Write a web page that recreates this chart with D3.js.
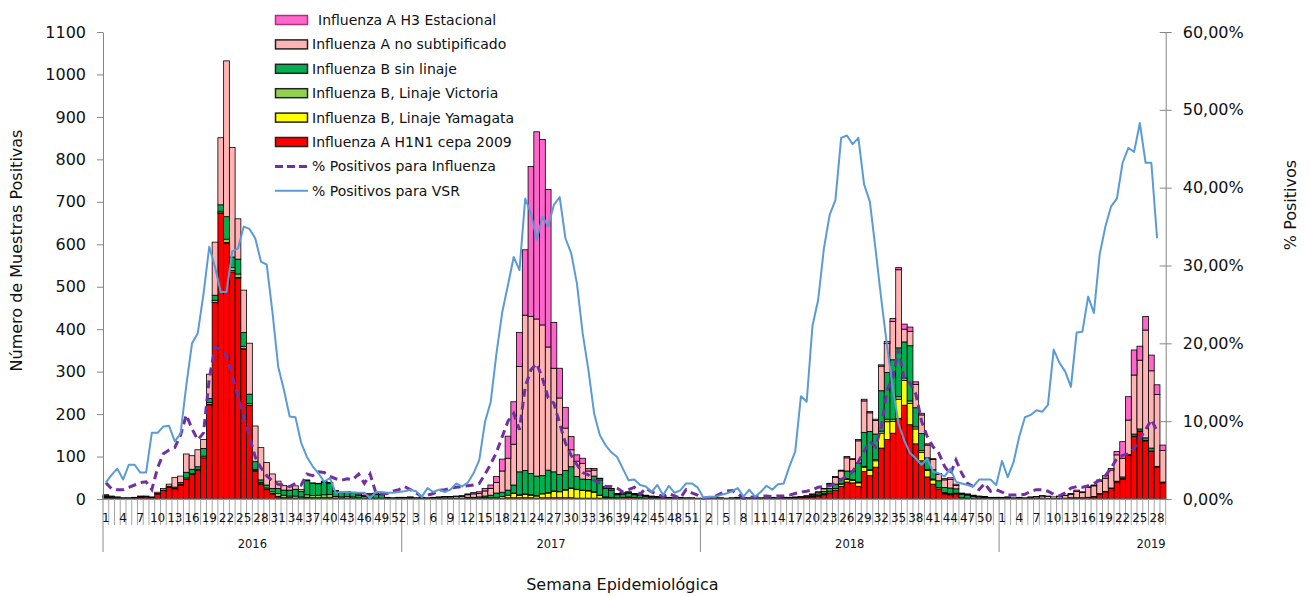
<!DOCTYPE html>
<html>
<head>
<meta charset="utf-8">
<script src="https://cdn.jsdelivr.net/npm/d3@7"></script>
<style>
  html, body { margin: 0; padding: 0; background: #fff; }
  svg text { font-family: "DejaVu Sans", Verdana, sans-serif; fill: #111; }
</style>
</head>
<body>
<svg id="chart" width="1309" height="596"></svg>
<script>
// ---- Epidemiological weeks: years and how many weeks each one contributes ----
const years = [2016, 2017, 2018, 2019];
const weeksInYear = [52, 52, 52, 29];

// ---- Positive samples per week, by virus (stacked bottom to top) ----
const h1n1 = [
  3,2,2,1,1,2,4,5,3,12, 20,28,24,33,47,58,68,97,222,463, 673,602,535,520,352,220,66,35,22,12,
  5,2,2,1,1,2,1,1,1,1, 1,1,1,1,1,0,1,1,1,1, 1,1,
  1,1,1,1,1,1,1,1,1,1, 1,1,1,1,1,1,1,2,3,3, 3,3,3,2,3,3,3,3,3,3, 2,2,2,2,2,2,2,2,3,4,
  3,2,2,1,1,1,1,1,1,1, 1,1,
  1,1,1,1,1,1,2,1,1,1, 1,1,2,1,2,2,2,3,4,5, 7,10,14,20,30,40,38,30,65,55, 75,120,140,155,190,221,175,130,90,52,
  35,22,12,10,12,2,1,1,1,1, 1,1,
  1,1,1,1,0,1,1,1,1,1, 1,1,2,2,2,3,5,12,17,25, 40,47,103,147,159,137,112,75,38
];
const yamagata = [
  2,1,0,0,0,0,0,0,0,0, 0,0,0,0,0,0,0,0,1,0, 1,2,3,2,2,1,1,1,1,1, 1,1,1,1,1,2,2,2,2,2,
  1,1,1,1,0,0,0,0,0,0, 0,0,
  0,0,0,0,0,0,0,0,0,0, 0,1,1,1,2,2,3,4,6,10, 6,8,6,5,9,11,15,14,18,22, 20,18,17,14,6,2,1,1,1,1,
  1,1,0,0,0,0,0,0,0,0, 0,0,
  0,0,0,0,0,0,0,0,0,0, 0,0,0,0,0,0,0,0,0,1, 1,2,3,4,5,6,6,8,10,12, 15,35,42,28,45,58,50,35,20,15,
  10,4,2,2,1,0,0,0,0,0, 0,0,
  0,0,0,0,0,0,0,0,0,0, 0,0,0,0,0,0,0,0,0,0, 0,0,0,0,0,0,0,0,0
];
const victoria = [
  1,1,0,0,0,0,0,0,0,0, 0,0,1,2,3,2,2,4,4,5, 4,8,7,8,5,4,3,3,3,4, 7,6,4,5,3,6,5,6,7,8,
  4,3,4,3,2,1,1,1,1,0, 0,0,
  0,0,0,0,0,0,0,0,0,0, 0,0,0,0,0,0,0,0,0,1, 1,1,1,1,1,1,1,1,1,1, 1,1,1,1,1,1,1,0,0,0,
  0,0,0,0,0,0,0,0,0,0, 0,0,
  0,0,0,0,0,0,0,0,0,0, 0,0,0,0,0,0,0,0,0,0, 0,1,1,1,1,2,2,2,2,2, 3,5,6,5,6,6,6,5,4,3,
  2,1,1,1,1,1,1,0,0,0, 0,0,
  0,0,0,0,0,0,0,0,0,0, 0,0,0,0,0,0,0,0,0,0, 0,1,0,1,1,1,1,0,0
];
const bSinLinaje = [
  3,2,2,1,1,1,1,0,0,1, 1,2,3,4,13,10,6,18,10,12, 15,53,25,35,33,22,18,6,7,8, 12,12,14,16,13,33,29,27,30,26,
  12,10,11,9,6,5,8,9,8,2, 1,2,
  1,2,1,1,1,1,1,1,1,1, 1,2,2,3,4,6,10,10,12,19, 54,55,50,46,42,53,45,40,45,50, 30,26,26,37,36,20,17,7,7,8,
  6,6,4,3,3,2,2,1,2,1, 1,1,
  1,1,1,1,1,1,1,1,1,1, 1,1,1,1,1,1,1,1,2,3, 4,5,7,10,12,18,20,45,80,90, 60,95,110,140,115,85,130,45,40,27,
  22,16,12,13,10,8,7,5,4,3, 2,2,
  1,1,0,1,1,0,0,1,0,0, 1,1,1,1,1,1,1,1,1,1, 2,4,2,5,5,6,7,2,2
];
const aNoSubtipificado = [
  1,1,1,1,1,1,2,2,2,3, 4,5,23,15,43,32,40,21,57,125, 158,367,258,95,100,120,84,76,53,34, 17,11,8,8,4,2,1,1,2,2,
  2,1,1,2,3,2,3,3,2,1, 1,1,
  1,1,1,1,1,1,2,3,3,4, 4,6,8,8,12,16,25,50,75,96, 248,366,370,370,355,290,244,180,100,40, 36,37,20,14,3,3,3,2,3,3,
  2,2,2,2,1,1,1,1,1,1, 1,0,
  0,1,1,1,0,1,1,1,1,0, 1,1,1,1,1,1,2,2,2,2, 4,6,10,16,18,31,27,52,74,44, 32,58,68,90,184,30,34,55,44,30,
  24,15,18,20,8,2,2,2,1,1, 1,1,
  2,2,2,2,2,3,4,5,5,4, 4,6,8,15,12,23,25,29,31,42, 62,44,81,139,162,254,182,169,74
];
const h3Estacional = [
  0,0,0,0,0,0,0,0,0,0, 0,0,0,0,0,0,0,0,0,0, 0,0,0,0,0,0,0,0,0,0, 0,0,0,0,0,0,0,0,0,0,
  0,0,0,0,1,5,0,0,0,0, 0,0,
  1,1,0,1,0,1,1,1,1,1, 2,2,3,4,6,8,14,28,52,100, 80,154,353,441,437,371,108,70,49,31, 15,12,6,4,1,1,1,1,1,1,
  1,1,1,1,1,1,0,0,0,0, 0,0,
  0,0,0,0,0,0,0,0,0,0, 0,0,0,0,0,0,0,0,0,1, 1,1,2,2,2,3,2,3,4,3, 3,3,5,7,5,12,10,6,4,3,
  2,2,3,4,3,1,1,1,1,1, 0,0,
  0,1,0,0,0,1,1,1,1,0, 1,1,2,3,2,2,2,3,6,4, 8,39,55,59,33,32,37,23,13
];

// ---- Weekly positivity (%) ----
const pctInfluenza = [
  2.1,1.3,1.2,1.2,1.5,1.8,2.1,2.2,1.2,4.0, 5.8,6.3,6.6,8.2,10.8,9.0,7.6,8.5,15.5,19.5,
  19.2,18.4,15.8,13.2,10.6,8.0,5.4,4.0,3.0,2.3, 1.9,1.8,1.6,2.0,1.8,3.2,3.0,3.5,3.4,2.9,
  2.6,2.4,2.6,2.5,3.2,2.0,3.2,0.8,0.7,0.7, 1.0,1.2,
  1.6,1.2,0.8,0.3,0.5,0.7,1.1,1.2, 1.4,1.5,1.6,1.7,1.8,2.0,3.2,4.5,6.0,8.0,
  10.0,11.0,8.9,14.4,16.6,17.4,15.5,13.0,12.3,9.7, 7.2,5.6,4.4,3.4,3.1,2.4,2.0,1.6,1.6,1.4,
  0.9,1.2,1.5,0.6,1.4,0.9,0.6,0.3,0.7,0.4, 0.1,1.2,0.8,0.5,
  0.1,0.2,0.3,0.7,1.0,1.1,0.7,0.1,0.2,0.3, 0.4,0.4,0.3,0.4,0.4,0.5,0.7,0.9,1.0,1.2,
  1.5,1.6,1.7,2.0,2.5,2.9,3.5,4.8,6.2,7.4, 6.7,9.3,14.0,15.7,19.2,15.3,14.9,13.5,10.0,8.0,
  6.7,5.9,4.2,3.2,5.0,3.3,2.0,1.6,1.2,2.0, 1.0,1.2,
  0.9,0.5,0.5,0.5,0.6,1.0,1.2,1.2,1.0,0.6, 0.4,0.8,1.4,1.6,1.5,1.7,2.0,2.4,3.0,4.0,
  5.2,5.6,5.8,6.5,7.8,8.9,10.2,8.7,null
];
const pctVSR = [
  2.1,3.1,3.9,2.5,4.4,4.4,3.4,3.4,8.5,8.5, 9.3,9.4,7.4,8.4,14.6,20.0,21.3,26.4,32.4,29.8,
  26.6,26.6,31.8,32.2,35.0,34.7,33.5,30.5,30.1,24.0, 17.0,14.0,10.6,10.5,7.2,5.4,4.2,3.3,2.2,2.7,
  0.8,0.9,0.9,0.8,0.8,0.8,0.1,0.9,0.9,0.8, 0.8,0.9,
  1.0,1.2,1.0,0.3,1.4,0.9,1.2,0.9, 1.2,2.0,1.6,2.1,3.3,5.0,9.9,12.5,18.7,24.0,
  27.5,31.1,29.4,38.6,36.7,33.3,36.3,35.0,37.8,38.8, 33.5,31.6,27.7,21.3,16.6,11.0,8.2,6.9,6.0,5.4,
  3.9,2.4,2.5,1.8,1.6,0.9,1.8,0.5,1.7,0.8, 1.1,2.0,2.0,1.5,
  0.2,0.3,0.3,0.5,0.7,1.0,1.4,0.3,1.2,0.3, 0.9,1.7,1.2,1.9,2.0,4.2,6.1,13.2,12.5,22.2,
  25.6,32.2,36.5,38.4,46.4,46.7,45.6,46.4,40.4,38.2, 32.0,25.6,19.6,14.2,9.7,7.5,5.9,5.2,4.4,5.2,
  3.5,3.3,2.9,3.9,2.2,2.0,1.8,1.6,2.5,2.5, 2.5,1.8,
  4.9,2.8,4.7,8.0,10.5,10.8,11.4,11.2,12.1,19.2, 17.5,16.4,14.4,21.4,21.5,26.0,23.9,31.4,35.0,37.6,
  38.6,43.2,45.1,44.6,48.3,43.2,43.2,33.5,null
];

// ---- Axis ticks ----
const leftTicks = [0,100,200,300,400,500,600,700,800,900,1000,1100];
const rightTicks = [0,10,20,30,40,50,60];

// ---- Series presentation ----
const barSeries = [
  { key: "h1n1", label: "Influenza A H1N1 cepa 2009", values: h1n1, color: "#ff0000" },
  { key: "yam",  label: "Influenza B, Linaje Yamagata", values: yamagata, color: "#ffff00" },
  { key: "vic",  label: "Influenza B, Linaje Victoria", values: victoria, color: "#92d050" },
  { key: "bsin", label: "Influenza B sin linaje", values: bSinLinaje, color: "#00b050" },
  { key: "anos", label: "Influenza A no subtipificado", values: aNoSubtipificado, color: "#ffb3b3" },
  { key: "h3",   label: "Influenza A H3 Estacional", values: h3Estacional, color: "#ff66cc" }
];

(function draw() {
  // Category list: one entry per epidemiological week
  const weeks = [];
  years.forEach((yr, yi) => {
    for (let w = 1; w <= weeksInYear[yi]; w++) weeks.push({ year: yr, week: w });
  });
  const n = weeks.length;

  const rows = weeks.map((d, i) => {
    const r = { i };
    barSeries.forEach(s => { r[s.key] = s.values[i]; });
    return r;
  });

  const svg = d3.select("#chart");
  const pL = 103, pR = 1165.7, pT = 32, pB = 499;

  const x = d3.scaleBand().domain(d3.range(n)).range([pL, pR]).padding(0);
  const bw = x.bandwidth();
  const y = d3.scaleLinear().domain([0, 1100]).range([pB, pT]);
  const yR = d3.scaleLinear().domain([0, 60]).range([pB, pT]);

  const axisColor = "#868686";

  // ---- Stacked bars ----
  const layers = d3.stack().keys(barSeries.map(s => s.key))(rows);
  const barG = svg.append("g");
  layers.forEach((layer, li) => {
    barG.append("g")
      .attr("fill", barSeries[li].color)
      .attr("stroke", "#000")
      .attr("stroke-width", 0.8)
      .selectAll("rect")
      .data(layer.filter(d => d[1] - d[0] > 0))
      .join("rect")
        .attr("x", d => x(d.data.i))
        .attr("width", bw)
        .attr("y", d => y(d[1]))
        .attr("height", d => y(d[0]) - y(d[1]));
  });

  // ---- Category axis ----
  const xAxisG = svg.append("g");
  xAxisG.append("line")
    .attr("x1", pL).attr("x2", pR)
    .attr("y1", pB).attr("y2", pB)
    .attr("stroke", axisColor);

  const yearStarts = [];
  weeks.forEach((d, i) => { if (d.week === 1) yearStarts.push(i); });

  xAxisG.selectAll("line.tick")
    .data(d3.range(n + 1))
    .join("line")
      .attr("class", "tick")
      .attr("x1", k => pL + k * bw).attr("x2", k => pL + k * bw)
      .attr("y1", pB)
      .attr("y2", k => (yearStarts.includes(k) ? 552 : 525))
      .attr("stroke", k => (yearStarts.includes(k) ? "#8c8c8c" : "#a6a6a6"))
      .attr("stroke-width", 1);

  xAxisG.selectAll("text.wk")
    .data(weeks.map((d, i) => ({ ...d, i })).filter(d => d.i % 3 === 0))
    .join("text")
      .attr("class", "wk")
      .attr("x", d => x(d.i) + bw / 2)
      .attr("y", 522)
      .attr("text-anchor", "middle")
      .attr("font-size", 12)
      .text(d => d.week);

  years.forEach((yr, yi) => {
    const start = yearStarts[yi];
    const count = weeksInYear[yi];
    const full = count >= 52;
    const g0 = x(start);
    const g1 = x(start + count - 1) + bw;
    xAxisG.append("text")
      .attr("x", full ? (g0 + g1) / 2 : g1)
      .attr("y", 548)
      .attr("text-anchor", full ? "middle" : "end")
      .attr("font-size", 11.5)
      .text(yr);
  });

  svg.append("text")
    .attr("x", (pL + pR) / 2 - 12)
    .attr("y", 590)
    .attr("text-anchor", "middle")
    .attr("font-size", 16)
    .text("Semana Epidemiológica");

  // ---- Left axis ----
  const yAxis = svg.append("g")
    .attr("transform", `translate(${pL},0)`)
    .call(d3.axisLeft(y).tickValues(leftTicks).tickFormat(d3.format("d"))
      .tickSize(6).tickSizeOuter(0).tickPadding(11));
  yAxis.select(".domain").attr("stroke", axisColor);
  yAxis.selectAll(".tick line").attr("stroke", axisColor);
  yAxis.selectAll(".tick text")
    .attr("font-size", 16)
    .attr("font-family", "DejaVu Sans, Verdana, sans-serif")
    .attr("fill", "#111");

  svg.append("text")
    .attr("transform", `translate(22,${(pT + pB) / 2 - 15}) rotate(-90)`)
    .attr("text-anchor", "middle")
    .attr("font-size", 16)
    .text("Número de Muestras Positivas");

  // ---- Right axis ----
  const pctFmt = v => d3.format(".2f")(v).replace(".", ",") + "%";
  const yRAxis = svg.append("g")
    .attr("transform", `translate(${pR},0)`)
    .call(d3.axisRight(yR).tickValues(rightTicks).tickSize(6).tickSizeOuter(0).tickPadding(11).tickFormat(pctFmt));
  yRAxis.select(".domain").attr("stroke", axisColor);
  yRAxis.selectAll(".tick line").attr("stroke", axisColor).attr("x1", -6);
  yRAxis.selectAll(".tick text")
    .attr("font-size", 16)
    .attr("font-family", "DejaVu Sans, Verdana, sans-serif")
    .attr("fill", "#111");

  svg.append("text")
    .attr("transform", `translate(1296,205) rotate(-90)`)
    .attr("text-anchor", "middle")
    .attr("font-size", 16)
    .text("% Positivos");

  // ---- Positivity lines ----
  const line = d3.line()
    .defined(d => d.v !== null)
    .x(d => x(d.i) + bw / 2)
    .y(d => yR(d.v));

  svg.append("path")
    .datum(pctInfluenza.map((v, i) => ({ i, v })))
    .attr("fill", "none")
    .attr("stroke", "#7030a0")
    .attr("stroke-width", 3)
    .attr("stroke-dasharray", "8,5")
    .attr("d", line);

  svg.append("path")
    .datum(pctVSR.map((v, i) => ({ i, v })))
    .attr("fill", "none")
    .attr("stroke", "#5b9bd5")
    .attr("stroke-width", 2)
    .attr("stroke-linejoin", "round")
    .attr("d", line);

  // ---- Legend ----
  const legendItems = [
    { type: "rect", label: "Influenza A H3 Estacional", color: "#ff66cc", dx: 6 },
    { type: "rect", label: "Influenza A no subtipificado", color: "#ffb3b3", dx: 0 },
    { type: "rect", label: "Influenza B sin linaje", color: "#00b050", dx: 0 },
    { type: "rect", label: "Influenza B, Linaje Victoria", color: "#92d050", dx: 0 },
    { type: "rect", label: "Influenza B, Linaje Yamagata", color: "#ffff00", dx: 0 },
    { type: "rect", label: "Influenza A H1N1 cepa 2009", color: "#ff0000", dx: 0 },
    { type: "dash", label: "% Positivos para Influenza", color: "#7030a0", dx: 0 },
    { type: "line", label: "% Positivos para VSR", color: "#5b9bd5", dx: 0 }
  ];
  const lg = svg.append("g").attr("transform", "translate(275,20)");
  legendItems.forEach((it, k) => {
    const g = lg.append("g").attr("transform", `translate(0,${k * 24.4})`);
    if (it.type === "rect") {
      g.append("rect")
        .attr("x", 0.5).attr("y", -4.5).attr("width", 32).attr("height", 9)
        .attr("fill", it.color)
        .attr("stroke", k === 0 ? "#b0307f" : "#222")
        .attr("stroke-width", 1.5);
    } else {
      g.append("line")
        .attr("x1", 0).attr("x2", 33).attr("y1", 0).attr("y2", 0)
        .attr("stroke", it.color)
        .attr("stroke-width", it.type === "dash" ? 3 : 2)
        .attr("stroke-dasharray", it.type === "dash" ? "8,4" : null);
    }
    g.append("text")
      .attr("x", 37 + it.dx)
      .attr("y", 5)
      .attr("font-size", 14)
      .text(it.label);
  });
})();
</script>
</body>
</html>
